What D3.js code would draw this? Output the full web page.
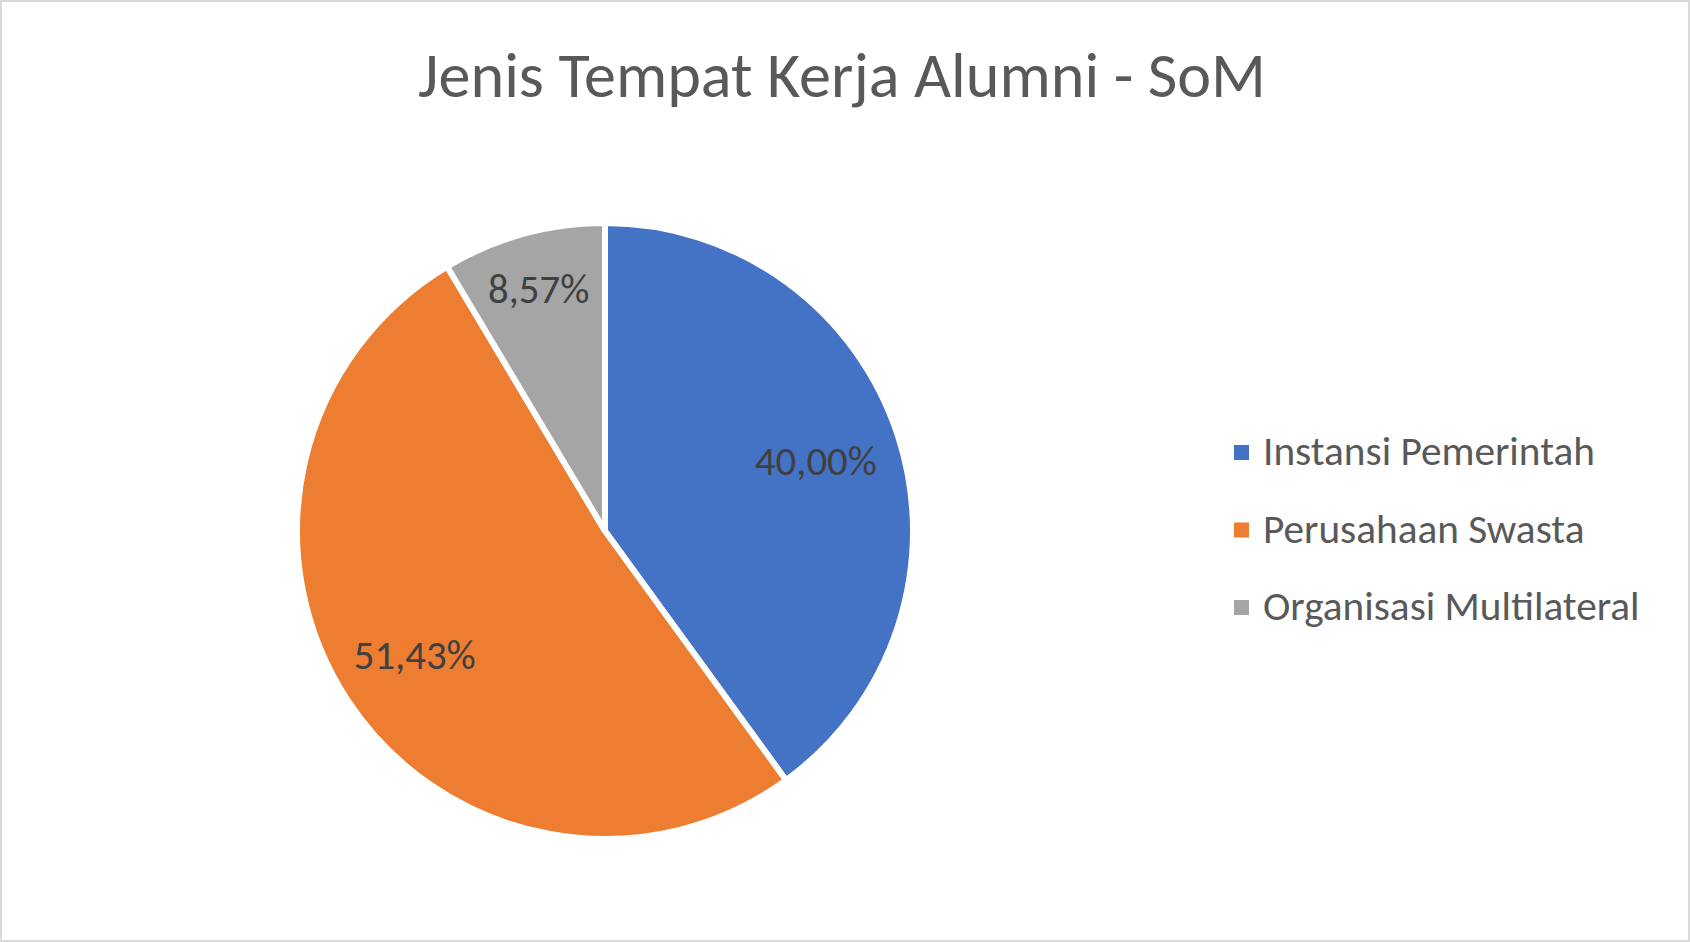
<!DOCTYPE html>
<html lang="en">
<head>
<meta charset="utf-8">
<title>Jenis Tempat Kerja Alumni - SoM</title>
<script src="https://cdn.jsdelivr.net/npm/d3@7"></script>
<style>
  html, body { margin: 0; padding: 0; background: #fff; }
  svg { display: block; }
  text { font-family: Carlito, Calibri, Lato, "Open Sans", sans-serif; }
</style>
</head>
<body>
<svg id="chart" width="1690" height="942"></svg>
<script>
// data
var categories = ['Instansi Pemerintah', 'Perusahaan Swasta', 'Organisasi Multilateral'];
var values = [40.00, 51.43, 8.57];
var valueLabels = ['40,00%', '51,43%', '8,57%'];
var colors = ['#4472C4', '#ED7D31', '#A5A5A5'];
var title = 'Jenis Tempat Kerja Alumni - SoM';

// layout
var width = 1690, height = 942;
var cx = 605, cy = 531, radius = 308;
var labelPos = [0.72, 0.74, 0.81];   // label distance as part of radius, per slice

var svg = d3.select('#chart');

svg.append('rect')
    .attr('x', 1).attr('y', 1)
    .attr('width', width - 2).attr('height', height - 2)
    .attr('fill', '#fff')
    .attr('stroke', '#d9d9d9')
    .attr('stroke-width', 2);

// scale font so the text gets the target width (font stand-in for Calibri)
function fitSize(sel, w) {
    var size = parseFloat(sel.attr('font-size'));
    var cur = sel.node().getComputedTextLength();
    return size * w / cur;
}

var t = svg.append('text')
    .attr('x', 842).attr('y', 97)
    .attr('text-anchor', 'middle')
    .attr('font-size', 60)
    .attr('fill', '#595959')
    .text(title);
t.attr('font-size', fitSize(t, 848));

var pie = d3.pie().sort(null).value(function(d) { return d; });
var arcs = pie(values);
var arc = d3.arc().innerRadius(0).outerRadius(radius);

var g = svg.append('g').attr('transform', 'translate(' + cx + ',' + cy + ')');

g.selectAll('path.slice')
    .data(arcs)
    .enter().append('path')
    .attr('class', 'slice')
    .attr('d', arc)
    .attr('fill', function(d, i) { return colors[i]; })
    .attr('stroke', '#fff')
    .attr('stroke-width', 6)
    .attr('stroke-linejoin', 'round');

var lbls = g.selectAll('text.lbl')
    .data(arcs)
    .enter().append('text')
    .attr('class', 'lbl')
    .attr('transform', function(d, i) {
        var a = d3.arc().innerRadius(radius * labelPos[i]).outerRadius(radius * labelPos[i]);
        var c = a.centroid(d);
        return 'translate(' + c[0] + ',' + c[1] + ')';
    })
    .attr('text-anchor', 'middle')
    .attr('dy', '0.3em')
    .attr('font-size', 40)
    .attr('fill', '#404040')
    .text(function(d, i) { return valueLabels[i]; });
// one size for all labels, taken from the widest one
var lblSize = fitSize(lbls.filter(function(d, i) { return i === 0; }), 122);
lbls.attr('font-size', lblSize);

// legend
var y0 = 453, step = 77.5;
var item = svg.append('g').selectAll('g.item')
    .data(categories)
    .enter().append('g')
    .attr('class', 'item')
    .attr('transform', function(d, i) { return 'translate(1234,' + (y0 + i * step) + ')'; });

item.append('rect')
    .attr('x', 0).attr('y', -8)
    .attr('width', 15).attr('height', 15)
    .attr('fill', function(d, i) { return colors[i]; });

var legText = item.append('text')
    .attr('x', 29).attr('y', 12)
    .attr('font-size', 40)
    .attr('fill', '#595959')
    .text(function(d) { return d; });
var legSize = fitSize(legText.filter(function(d, i) { return i === 0; }), 332);
legText.attr('font-size', legSize);
</script>
</body>
</html>
